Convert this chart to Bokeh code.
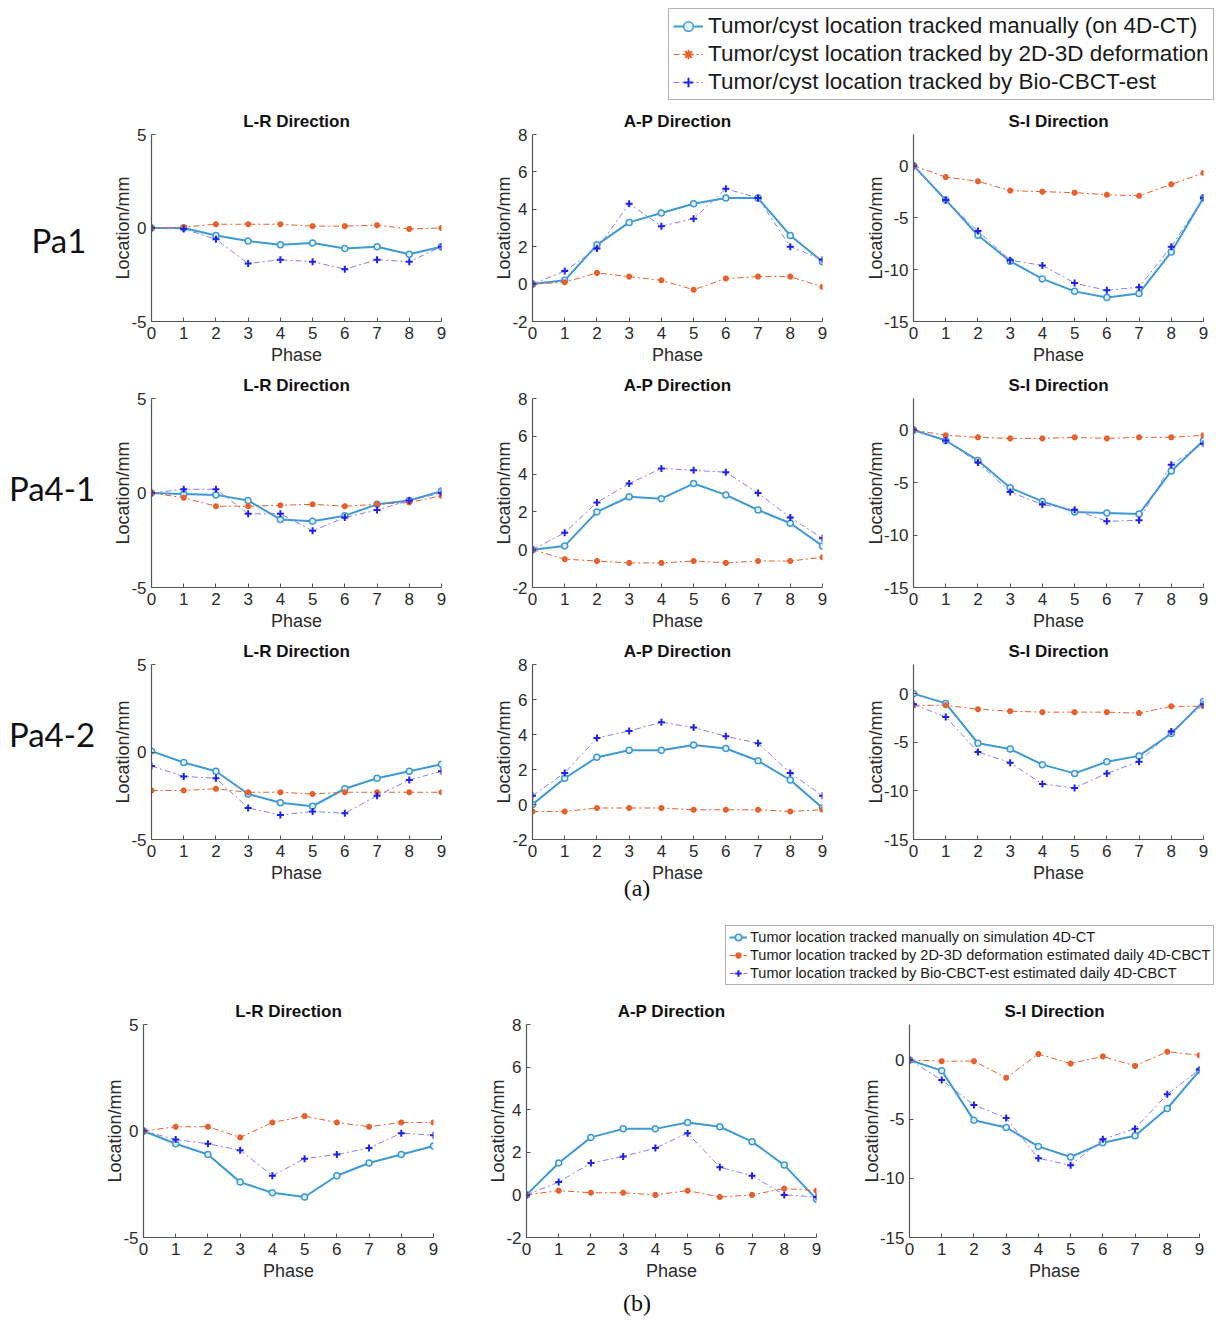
from bokeh.plotting import figure
from bokeh.models import Range1d, Legend, LegendItem, Div, Spacer
from bokeh.layouts import row, column
from bokeh.embed import file_html
from bokeh.resources import INLINE

phases = [0, 1, 2, 3, 4, 5, 6, 7, 8, 9]
phase_ticks = [0, 1, 2, 3, 4, 5, 6, 7, 8, 9]
lr_ticks = [-5, 0, 5]
ap_ticks = [-2, 0, 2, 4, 6, 8]
si_ticks = [-15, -10, -5, 0]

# ---- (a) Pa1 ----
pa1_lr_manual = [0, 0, -0.4, -0.7, -0.9, -0.8, -1.1, -1.0, -1.4, -1.0]
pa1_lr_d23 = [0, 0.05, 0.2, 0.2, 0.2, 0.1, 0.1, 0.15, -0.05, 0.0]
pa1_lr_bio = [0, -0.05, -0.6, -1.9, -1.7, -1.8, -2.2, -1.7, -1.8, -1.0]
pa1_ap_manual = [0, 0.2, 2.1, 3.3, 3.8, 4.3, 4.6, 4.6, 2.6, 1.2]
pa1_ap_d23 = [0, 0.1, 0.6, 0.4, 0.2, -0.3, 0.3, 0.4, 0.4, -0.15]
pa1_ap_bio = [0, 0.7, 1.9, 4.3, 3.1, 3.5, 5.1, 4.6, 2.0, 1.3]
pa1_si_manual = [0, -3.3, -6.7, -9.2, -10.9, -12.1, -12.7, -12.3, -8.3, -3.1]
pa1_si_d23 = [0, -1.1, -1.5, -2.4, -2.5, -2.6, -2.8, -2.9, -1.8, -0.7]
pa1_si_bio = [0, -3.3, -6.3, -9.1, -9.6, -11.3, -12.0, -11.7, -7.8, -3.1]

# ---- (a) Pa4-1 ----
pa41_lr_manual = [0, -0.05, -0.1, -0.4, -1.4, -1.5, -1.2, -0.6, -0.4, 0.1]
pa41_lr_d23 = [0, -0.25, -0.7, -0.7, -0.65, -0.6, -0.7, -0.6, -0.5, -0.15]
pa41_lr_bio = [0, 0.2, 0.2, -1.1, -1.1, -2.0, -1.3, -0.9, -0.4, 0.0]
pa41_ap_manual = [0, 0.2, 2.0, 2.8, 2.7, 3.5, 2.9, 2.1, 1.4, 0.2]
pa41_ap_d23 = [0, -0.5, -0.6, -0.7, -0.7, -0.6, -0.7, -0.6, -0.6, -0.4]
pa41_ap_bio = [0, 0.9, 2.5, 3.5, 4.3, 4.2, 4.1, 3.0, 1.7, 0.6]
pa41_si_manual = [0, -1.0, -2.9, -5.5, -6.8, -7.8, -7.9, -8.0, -3.9, -1.0]
pa41_si_d23 = [0, -0.5, -0.7, -0.8, -0.8, -0.7, -0.8, -0.7, -0.7, -0.5]
pa41_si_bio = [0, -1.0, -3.1, -5.9, -7.1, -7.6, -8.7, -8.6, -3.3, -1.3]

# ---- (a) Pa4-2 ----
pa42_lr_manual = [0.05, -0.6, -1.1, -2.4, -2.9, -3.1, -2.1, -1.5, -1.1, -0.7]
pa42_lr_d23 = [-2.2, -2.2, -2.1, -2.3, -2.3, -2.4, -2.3, -2.3, -2.3, -2.3]
pa42_lr_bio = [-0.8, -1.4, -1.5, -3.2, -3.6, -3.4, -3.5, -2.5, -1.6, -1.1]
pa42_ap_manual = [0, 1.5, 2.7, 3.1, 3.1, 3.4, 3.2, 2.5, 1.4, -0.2]
pa42_ap_d23 = [-0.4, -0.4, -0.2, -0.2, -0.2, -0.3, -0.3, -0.3, -0.4, -0.3]
pa42_ap_bio = [0.5, 1.8, 3.8, 4.2, 4.7, 4.4, 3.9, 3.5, 1.8, 0.5]
pa42_si_manual = [0, -1.0, -5.1, -5.7, -7.3, -8.2, -7.0, -6.4, -4.1, -0.8]
pa42_si_d23 = [-1.2, -1.2, -1.6, -1.8, -1.9, -1.9, -1.9, -2.0, -1.3, -1.3]
pa42_si_bio = [-1.1, -2.4, -6.0, -7.1, -9.3, -9.7, -8.2, -7.0, -3.9, -1.1]

# ---- (b) ----
b_lr_manual = [0, -0.6, -1.1, -2.4, -2.9, -3.1, -2.1, -1.5, -1.1, -0.7]
b_lr_d23 = [0, 0.2, 0.2, -0.3, 0.4, 0.7, 0.4, 0.2, 0.4, 0.4]
b_lr_bio = [0, -0.4, -0.6, -0.9, -2.1, -1.3, -1.1, -0.8, -0.1, -0.2]
b_ap_manual = [0, 1.5, 2.7, 3.1, 3.1, 3.4, 3.2, 2.5, 1.4, -0.2]
b_ap_d23 = [0, 0.2, 0.1, 0.1, 0.0, 0.2, -0.1, 0.0, 0.3, 0.2]
b_ap_bio = [0, 0.6, 1.5, 1.8, 2.2, 2.9, 1.3, 0.9, 0.0, -0.1]
b_si_manual = [0, -0.9, -5.1, -5.7, -7.3, -8.2, -7.0, -6.4, -4.1, -0.9]
b_si_d23 = [0, -0.1, -0.1, -1.5, 0.5, -0.3, 0.3, -0.5, 0.7, 0.4]
b_si_bio = [0, -1.7, -3.8, -4.9, -8.3, -8.9, -6.7, -5.8, -2.9, -0.8]

legend_a = ["Tumor/cyst location tracked manually (on 4D-CT)",
            "Tumor/cyst location tracked by 2D-3D deformation",
            "Tumor/cyst location tracked by Bio-CBCT-est"]
legend_b = ["Tumor location tracked manually on simulation 4D-CT",
            "Tumor location tracked by 2D-3D deformation estimated daily 4D-CBCT",
            "Tumor location tracked by Bio-CBCT-est estimated daily 4D-CBCT"]

MANUAL = "#3d9ad6"
D23 = "#e8602c"
BIO_LINE = "#8080ff"
BIO_MARK = "#2020f0"
FONT = "Liberation Sans"
TXT = "#2b2b2b"
AX = "#555555"
NAN = [float("nan")]


def add_series(p, manual, d23, bio):
    p.line(phases, manual, line_color=MANUAL, line_width=2)
    p.scatter(phases, manual, marker="circle", size=6, line_color=MANUAL,
              fill_color="#e6f3fb", line_width=1.5)
    p.line(phases, d23, line_color=D23, line_width=1, line_dash="6 3 2 3")
    p.scatter(phases, d23, marker="asterisk", size=6, line_color=D23, line_width=2)
    p.line(phases, bio, line_color=BIO_LINE, line_width=1, line_dash="6 3 2 3")
    p.scatter(phases, bio, marker="cross", size=7, line_color=BIO_MARK, line_width=2)


def make_fig(width, ml, mr, mt, fh, mb, title, yr, yticks, manual, d23, bio):
    p = figure(width=width, height=mt + fh + mb, x_range=Range1d(0, 9),
               y_range=Range1d(*yr), output_backend="svg", toolbar_location=None,
               min_border_left=ml, min_border_right=mr, min_border_top=mt,
               min_border_bottom=mb, title=title)
    p.title.align = "center"
    p.title.text_font = FONT
    p.title.text_font_size = "17px"
    p.title.text_font_style = "bold"
    p.title.text_color = "#111111"
    p.title.standoff = 8
    p.outline_line_color = None
    p.grid.visible = False
    p.background_fill_color = "white"
    p.border_fill_color = "white"
    p.xaxis.ticker = phase_ticks
    p.yaxis.ticker = yticks
    p.yaxis.major_label_overrides = {t: str(t) for t in yticks}
    p.xaxis.axis_label = "Phase"
    p.yaxis.axis_label = "Location/mm"
    for ax in (p.xaxis[0], p.yaxis[0]):
        ax.axis_line_color = AX
        ax.axis_line_width = 1.2
        ax.major_tick_line_color = AX
        ax.major_tick_in = 4
        ax.major_tick_out = 0
        ax.minor_tick_line_color = None
        ax.major_label_text_font = FONT
        ax.major_label_text_font_size = "17px"
        ax.major_label_text_color = TXT
        ax.axis_label_text_font = FONT
        ax.axis_label_text_font_size = "18px"
        ax.axis_label_text_font_style = "normal"
        ax.axis_label_text_color = TXT
    p.xaxis.major_label_standoff = 5
    p.xaxis.axis_label_standoff = 3
    p.yaxis.major_label_standoff = 5
    p.yaxis.axis_label_standoff = -5
    add_series(p, manual, d23, bio)
    return p


def legend_fig(width, height, labels, loc, font_size, glyph_w, glyph_h, label_h,
               spacing, padding, standoff, msize):
    p = figure(width=width, height=height, x_range=Range1d(0, 1), y_range=Range1d(0, 1),
               x_axis_type=None, y_axis_type=None, output_backend="svg",
               toolbar_location=None, min_border=0)
    p.outline_line_color = None
    p.grid.visible = False
    r1 = p.line(NAN, NAN, line_color=MANUAL, line_width=2)
    s1 = p.scatter(NAN, NAN, marker="circle", size=msize, line_color=MANUAL,
                   fill_color="#e6f3fb", line_width=1.5)
    r2 = p.line(NAN, NAN, line_color=D23, line_width=1, line_dash="6 3 2 3")
    s2 = p.scatter(NAN, NAN, marker="asterisk", size=msize, line_color=D23, line_width=2)
    r3 = p.line(NAN, NAN, line_color=BIO_LINE, line_width=1, line_dash="6 3 2 3")
    s3 = p.scatter(NAN, NAN, marker="cross", size=msize + 1, line_color=BIO_MARK, line_width=2)
    items = [LegendItem(label=labels[0], renderers=[r1, s1]),
             LegendItem(label=labels[1], renderers=[r2, s2]),
             LegendItem(label=labels[2], renderers=[r3, s3])]
    lg = Legend(items=items, location=loc)
    lg.label_text_font = FONT
    lg.label_text_font_size = font_size
    lg.label_text_color = "#1a1a1a"
    lg.glyph_width = glyph_w
    lg.glyph_height = glyph_h
    lg.label_height = label_h
    lg.spacing = spacing
    lg.padding = padding
    lg.margin = 0
    lg.label_standoff = standoff
    lg.border_line_color = "#666666"
    lg.border_line_width = 1
    lg.background_fill_alpha = 1
    p.add_layout(lg, "center")
    return p


def row_label(text, h, top, left):
    html = (f'<div style="position:relative;top:{top}px;left:{left}px;width:100px;text-align:center;'
            f'font-family:Lato;font-size:33px;line-height:38px;color:#111">{text}</div>')
    return Div(text=html, width=100, height=h, margin=0)


def center_label(text, h, top):
    html = (f'<div style="position:relative;top:{top}px;width:1228px;text-align:center;'
            f'font-family:\'Liberation Serif\';font-size:24px;line-height:26px;color:#111;'
            f'padding-left:46px;box-sizing:border-box">{text}</div>')
    return Div(text=html, width=1228, height=h, margin=0)


# Top legend row
leg1 = legend_fig(565, 105, legend_a, (5, 5), "22.5px", 30, 24, 24, 2, 4, 5, 7)
top_row = row([Spacer(width=663, height=105), leg1], spacing=0)

rows_a = []
specs = [
    ("Pa1", 28, 188, 48, 116, 9, (pa1_lr_manual, pa1_lr_d23, pa1_lr_bio),
     (pa1_ap_manual, pa1_ap_d23, pa1_ap_bio), (pa1_si_manual, pa1_si_d23, pa1_si_bio)),
    ("Pa4-1", 29, 189, 48, 100, 2, (pa41_lr_manual, pa41_lr_d23, pa41_lr_bio),
     (pa41_ap_manual, pa41_ap_d23, pa41_ap_bio), (pa41_si_manual, pa41_si_d23, pa41_si_bio)),
    ("Pa4-2", 28, 176, 47, 80, 2, (pa42_lr_manual, pa42_lr_d23, pa42_lr_bio),
     (pa42_ap_manual, pa42_ap_d23, pa42_ap_bio), (pa42_si_manual, pa42_si_d23, pa42_si_bio)),
]
for name, mt, fh, mb, ltop, lleft, lr, ap, si in specs:
    h = mt + fh + mb
    f1 = make_fig(362, 51, 21, mt, fh, mb, "L-R Direction", (-5, 5), lr_ticks, *lr)
    f2 = make_fig(381, 70, 21, mt, fh, mb, "A-P Direction", (-2, 8), ap_ticks, *ap)
    f3 = make_fig(381, 70, 21, mt, fh, mb, "S-I Direction", (-15, 3), si_ticks, *si)
    rows_a.append(row([row_label(name, h, ltop, lleft), f1, f2, f3], spacing=0))

label_a = center_label("(a)", 19, -11)

leg2 = legend_fig(505, 85, legend_b, (5, 5), "14.5px", 18, 16, 16, 2, 3, 3, 5)
leg_row = row([Spacer(width=720, height=85), leg2], spacing=0)

WB = 383
mt, fh, mb = 34, 213, 48
fb1 = make_fig(WB, 70, 23, mt, fh, mb, "L-R Direction", (-5, 5), lr_ticks, b_lr_manual, b_lr_d23, b_lr_bio)
fb2 = make_fig(WB, 70, 23, mt, fh, mb, "A-P Direction", (-2, 8), ap_ticks, b_ap_manual, b_ap_d23, b_ap_bio)
fb3 = make_fig(WB, 70, 23, mt, fh, mb, "S-I Direction", (-15, 3), si_ticks, b_si_manual, b_si_d23, b_si_bio)
row_b = row([Spacer(width=73, height=mt + fh + mb), fb1, fb2, fb3], spacing=0)

label_b = center_label("(b)", 37, 5)

page = column([top_row] + rows_a + [label_a, leg_row, row_b, label_b], spacing=0)

open("out.html", "w").write(file_html(page, INLINE))
